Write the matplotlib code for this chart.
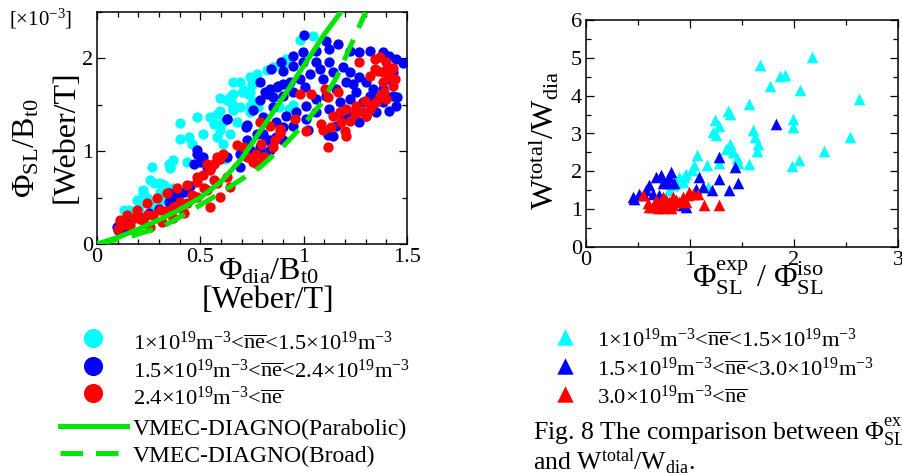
import matplotlib
matplotlib.use('Agg')
import matplotlib.pyplot as plt
from matplotlib.ticker import MultipleLocator

plt.rcParams['font.family'] = 'Liberation Serif'
plt.rcParams['mathtext.fontset'] = 'custom'
plt.rcParams['mathtext.rm'] = 'Liberation Serif'
plt.rcParams['mathtext.it'] = 'Liberation Serif:italic'

CYAN = '#00ffff'
BLUE = '#0000ff'
RED = '#ff0000'
GREEN = '#00e600'

# ---- left panel: Phi_SL/B_t0 vs Phi_dia/B_t0 (units 1e-3 on y) ----
low_x = [0.66, 0.693, 0.749, 0.70, 0.733, 0.596, 0.644, 0.652, 0.66, 0.741, 0.596, 0.58,
         0.547, 0.483, 0.403, 0.612, 0.676, 1.045, 0.916, 0.90, 0.771, 0.755, 0.739, 0.755,
         0.779, 0.739, 0.443, 0.58, 0.644, 0.612, 0.266, 0.346, 0.354, 0.435, 0.274, 0.225,
         0.242, 0.306, 0.37, 0.314, 0.153, 0.201, 0.266, 0.322, 0.403, 0.459, 0.515, 0.596,
         0.564, 0.66, 0.692, 0.628, 0.66, 0.709, 0.741, 0.773, 0.821, 0.853, 0.902, 0.95,
         0.354, 0.37, 0.258, 0.306, 0.225, 0.193, 0.129, 0.177, 0.88, 0.93, 0.98, 0.62]
low_y = [1.75, 1.742, 1.724, 1.64, 1.616, 1.57, 1.58, 1.509, 1.455, 1.49, 1.437, 1.40,
         1.366, 1.373, 1.30, 1.31, 1.31, 2.244, 1.993, 1.94, 1.814, 1.724, 1.635, 1.545,
         1.474, 1.42, 1.154, 1.154, 1.19, 1.082, 0.832, 0.867, 0.814, 0.885, 0.652, 0.545,
         0.491, 0.563, 0.599, 0.473, 0.366, 0.384, 0.42, 0.635, 1.136, 1.082, 1.19, 1.226,
         1.297, 1.441, 1.477, 1.548, 1.62, 1.656, 1.799, 1.835, 1.871, 1.907, 1.96, 1.495,
         0.832, 0.903, 0.688, 0.652, 0.581, 0.473, 0.366, 0.294, 1.48, 1.45, 2.2, 0.92]

mid_x = [1.001, 1.109, 1.166, 1.125, 1.061, 0.997, 0.948, 0.892, 0.844, 0.90, 0.948, 0.997,
         1.061, 1.125, 1.077, 1.029, 0.981, 0.932, 0.876, 0.836, 0.787, 0.811, 0.852, 0.90,
         0.948, 1.005, 1.093, 1.142, 1.19, 1.222, 1.206, 1.158, 1.109, 1.061, 1.013, 0.964,
         0.916, 0.868, 0.90, 0.948, 1.013, 1.061, 1.125, 1.174, 1.222, 1.254, 1.238, 1.27,
         1.303, 1.335, 1.319, 1.287, 1.254, 1.222, 1.19, 1.222, 1.27, 1.319, 1.383, 1.415,
         1.448, 1.48, 1.431, 1.415, 1.383, 1.351, 1.383, 1.431, 1.448, 1.415, 1.351, 1.303,
         1.27, 1.158, 0.803, 0.836, 0.787, 0.763, 0.868, 1.117, 1.142, 1.021, 0.82, 0.90,
         0.483, 0.515, 0.499, 0.467, 0.709, 0.692, 0.346, 0.37, 0.419, 0.113, 0.097, 0.483,
         0.628, 0.721, 0.628, 0.725, 0.757, 0.789, 0.821, 0.87, 0.902, 0.853, 0.805, 0.773,
         0.821, 0.725, 0.692, 0.741, 0.789, 0.837, 0.531, 0.58, 0.628, 0.10, 0.11, 0.13,
         0.15, 0.20, 0.25, 0.30, 0.35, 0.40, 0.45, 0.55, 1.38, 1.45]
mid_y = [2.251, 2.19, 2.155, 2.101, 2.083, 2.065, 2.029, 1.957, 1.886, 1.868, 1.922, 1.957,
         1.957, 1.957, 1.886, 1.832, 1.778, 1.742, 1.706, 1.671, 1.742, 1.635, 1.581, 1.599,
         1.635, 1.689, 1.778, 1.85, 1.904, 1.85, 1.742, 1.671, 1.599, 1.563, 1.491, 1.42,
         1.384, 1.312, 1.258, 1.276, 1.348, 1.42, 1.456, 1.527, 1.563, 1.635, 1.724, 1.796,
         1.742, 1.671, 1.599, 1.527, 1.456, 1.384, 1.348, 2.083, 2.065, 2.083, 2.065, 2.029,
         1.993, 1.95, 1.85, 1.778, 1.671, 1.581, 1.527, 1.599, 1.491, 1.438, 1.42, 1.384,
         1.312, 1.276, 1.19, 1.118, 1.011, 0.975, 1.154, 1.172, 1.161, 1.226, 0.94, 1.118,
         0.975, 0.939, 0.885, 0.867, 0.975, 0.832, 0.545, 0.509, 0.563, 0.222, 0.186, 1.011,
         1.351, 1.265, 1.351, 1.28, 1.441, 1.548, 1.62, 1.692, 1.728, 1.477, 1.369, 1.19,
         1.118, 1.118, 0.975, 1.011, 1.047, 1.011, 0.832, 0.903, 0.939, 0.15, 0.20, 0.17,
         0.25, 0.30, 0.33, 0.38, 0.45, 0.55, 0.62, 0.83, 1.56, 1.58]

high_x = [1.27, 1.343, 1.367, 1.399, 1.343, 1.319, 1.383, 1.415, 1.431, 1.383, 1.391, 1.399,
          1.351, 1.295, 1.254, 1.206, 1.174, 1.142, 1.182, 1.222, 1.287, 1.319, 0.981, 1.037,
          1.101, 1.166, 1.117, 0.787, 0.836, 0.884, 0.956, 1.085, 1.133, 1.013, 1.198, 0.884,
          0.86, 0.795, 0.771, 0.811, 0.755, 1.117, 1.206, 1.093, 0.676, 0.612, 0.596, 0.564,
          0.548, 0.515, 0.483, 0.435, 0.386, 0.338, 0.29, 0.242, 0.193, 0.145, 0.113, 0.129,
          0.177, 0.242, 0.306, 0.37, 0.435, 0.483, 0.531, 0.58, 0.628, 0.644, 0.419, 0.37,
          0.314, 0.258, 0.225, 0.548, 0.596, 0.564, 0.483, 0.709, 0.725, 0.773, 0.805, 0.853,
          0.886, 0.58, 0.531, 0.10, 0.12, 0.16, 0.21, 0.27, 0.33, 0.40, 0.46, 0.52, 1.43, 1.36,
          1.40, 1.44, 1.37, 1.33, 1.25, 1.30]
high_y = [1.957, 1.993, 2.011, 1.957, 1.886, 1.814, 1.85, 1.814, 1.706, 1.742, 1.635, 1.563,
          1.527, 1.545, 1.491, 1.456, 1.42, 1.384, 1.312, 1.33, 1.42, 1.456, 1.617, 1.617,
          1.671, 1.635, 1.581, 1.312, 1.276, 1.24, 1.348, 1.294, 1.258, 1.222, 1.222, 1.208,
          1.118, 1.082, 0.975, 0.94, 0.885, 1.04, 1.161, 1.226, 1.065, 0.975, 0.921, 0.867,
          0.796, 0.742, 0.67, 0.635, 0.599, 0.545, 0.491, 0.437, 0.366, 0.312, 0.258, 0.204,
          0.276, 0.312, 0.366, 0.402, 0.437, 0.509, 0.581, 0.652, 0.724, 0.617, 0.33, 0.276,
          0.24, 0.186, 0.258, 0.402, 0.509, 0.688, 0.724, 1.047, 0.939, 0.867, 0.939, 1.047,
          1.19, 0.939, 0.867, 0.16, 0.22, 0.20, 0.27, 0.31, 0.36, 0.45, 0.53, 0.60, 1.90, 1.86,
          1.88, 1.78, 1.60, 1.50, 1.40, 1.38]

para_x = [0, 0.1, 0.2, 0.3, 0.4, 0.5, 0.6, 0.7, 0.8, 0.9, 1.0, 1.1, 1.18]
para_y = [0, 0.07, 0.16, 0.26, 0.37, 0.5, 0.67, 0.92, 1.25, 1.58, 1.92, 2.26, 2.5]
broad_x = [0, 0.16, 0.32, 0.44, 0.56, 0.68, 0.79, 0.9, 0.98, 1.08, 1.16, 1.22, 1.3]
broad_y = [0, 0.08, 0.19, 0.34, 0.5, 0.67, 0.83, 1.05, 1.24, 1.5, 1.8, 2.1, 2.5]

# ---- right panel: W_total/W_dia vs Phi_exp/Phi_iso ----
r_low_x = [2.173, 1.673, 1.869, 1.917, 1.772, 2.058, 2.622, 1.564, 1.365, 1.385, 1.244, 1.282,
           1.218, 1.25, 1.987, 1.987, 1.603, 1.628, 1.657, 1.647, 2.535, 2.285, 2.045, 1.978,
           1.385, 1.346, 1.41, 1.449, 1.462, 1.571, 1.067, 1.163, 1.276, 1.035, 1.016, 0.962,
           0.946, 0.897, 0.865, 0.833, 0.929, 1.17, 0.801]
r_low_y = [5.01, 4.81, 4.52, 4.54, 4.26, 4.16, 3.92, 3.79, 3.59, 3.52, 3.36, 3.21,
           3.04, 2.95, 3.39, 3.17, 3.08, 2.9, 2.73, 2.55, 2.9, 2.55, 2.29, 2.13,
           2.71, 2.6, 2.51, 2.36, 2.22, 2.2, 2.42, 2.18, 2.22, 2.16, 2.03, 1.94,
           1.85, 1.85, 1.68, 1.63, 1.72, 1.59, 1.5]
r_mid_x = [1.827, 1.282, 1.436, 1.458, 1.276, 1.372, 1.212, 1.083, 1.122, 1.058, 0.817, 0.721,
           0.673, 0.849, 0.785, 0.737, 0.609, 0.577, 0.513, 0.465, 0.705, 0.641, 0.962, 0.929,
           0.673, 0.449, 0.561, 0.80]
r_mid_y = [3.25, 2.38, 2.11, 1.69, 1.81, 1.5, 1.5, 1.85, 1.59, 1.54, 1.98, 1.89,
           1.85, 1.68, 1.68, 1.68, 1.63, 1.5, 1.41, 1.28, 1.37, 1.41, 1.06, 1.1,
           1.15, 1.32, 1.37, 1.85]
r_high_x = [0.545, 0.593, 0.641, 0.689, 0.737, 0.785, 0.833, 0.817, 0.865, 0.929, 0.978, 1.026,
            1.074, 1.138, 1.282, 0.769, 0.721, 0.801, 0.897, 0.673, 0.737, 0.833, 0.962, 0.609,
            0.994]
r_high_y = [1.37, 1.15, 1.06, 1.02, 1.02, 1.06, 1.1, 1.02, 1.24, 1.32, 1.37, 1.41,
            1.41, 1.12, 1.12, 1.24, 1.19, 1.19, 1.19, 1.24, 1.32, 1.32, 1.19, 1.06,
            1.46]

E19 = r'10$^{19}$m$^{\mathrm{-3}}$'
NE = r'$\overline{\mathrm{ne}}$'
labels_left = ['1×' + E19 + '<' + NE + '<1.5×' + E19,
               '1.5×' + E19 + '<' + NE + '<2.4×' + E19,
               '2.4×' + E19 + '<' + NE,
               'VMEC-DIAGNO(Parabolic)', 'VMEC-DIAGNO(Broad)']
labels_right = ['1×' + E19 + '<' + NE + '<1.5×' + E19,
                '1.5×' + E19 + '<' + NE + '<3.0×' + E19,
                '3.0×' + E19 + '<' + NE]

W, H = 903, 473
fig = plt.figure(figsize=(W / 100, H / 100), dpi=100)


def px_axes(x0, y0, x1, y1):
    return fig.add_axes([x0 / W, 1 - y1 / H, (x1 - x0) / W, (y1 - y0) / H])


def style(ax):
    for s in ax.spines.values():
        s.set_linewidth(1.1)
    ax.tick_params(which='both', direction='in', top=True, right=True, width=0.9,
                   labelsize=16, pad=3)
    ax.tick_params(which='major', length=6)
    ax.tick_params(which='minor', length=3.5)


fmt = plt.FuncFormatter(lambda v, p: '%g' % v)

ax1 = px_axes(97, 12, 407, 244)
ax1.scatter(low_x, low_y, s=55, c=CYAN, linewidths=0, zorder=2)
ax1.scatter(mid_x, mid_y, s=55, c=BLUE, linewidths=0, zorder=3)
ax1.scatter(high_x, high_y, s=55, c=RED, linewidths=0, zorder=4)
ax1.plot(para_x, para_y, color=GREEN, lw=3.6, zorder=5, solid_capstyle='round')
ax1.plot(broad_x, broad_y, color=GREEN, lw=3.6, zorder=5, dashes=[4.5, 2.6])
ax1.set_xlim(0, 1.5)
ax1.set_ylim(0, 2.5)
ax1.xaxis.set_major_locator(MultipleLocator(0.5))
ax1.xaxis.set_minor_locator(MultipleLocator(0.1))
ax1.yaxis.set_major_locator(MultipleLocator(1))
ax1.yaxis.set_minor_locator(MultipleLocator(0.5))
ax1.xaxis.set_major_formatter(fmt)
ax1.yaxis.set_major_formatter(fmt)
style(ax1)

ax2 = px_axes(586, 20, 898, 247)
ax2.scatter(r_low_x, r_low_y, s=70, marker='^', c=CYAN, linewidths=0, zorder=2)
ax2.scatter(r_mid_x, r_mid_y, s=70, marker='^', c=BLUE, linewidths=0, zorder=3)
ax2.scatter(r_high_x, r_high_y, s=70, marker='^', c=RED, linewidths=0, zorder=4)
ax2.set_xlim(0, 3)
ax2.set_ylim(0, 6)
ax2.xaxis.set_major_locator(MultipleLocator(1))
ax2.xaxis.set_minor_locator(MultipleLocator(0.5))
ax2.yaxis.set_major_locator(MultipleLocator(1))
ax2.yaxis.set_minor_locator(MultipleLocator(0.5))
style(ax2)

# overlay in pixel coordinates for labels, legends and caption
ov = fig.add_axes([0, 0, 1, 1])
ov.set_xlim(0, W)
ov.set_ylim(H, 0)
ov.axis('off')

big = 23
ov.text(41, 19, r'[×10$^{\mathrm{-3}}$]', fontsize=15, ha='center', va='center')
ov.text(27, 148, r'$\mathrm{\Phi_{SL}/B_{t0}}$', fontsize=big, rotation=90,
        ha='center', va='center')
ov.text(66, 137, '[Weber/T]', fontsize=big, rotation=90, ha='center', va='center')
ov.text(268, 272, r'$\mathrm{\Phi_{dia}/B_{t0}}$', fontsize=big, ha='center', va='center')
ov.text(268, 300, '[Weber/T]', fontsize=big, ha='center', va='center')
ov.text(544, 140, r'$\mathrm{W^{total}/W_{dia}}$', fontsize=big, rotation=90,
        ha='center', va='center')
ov.text(758, 278, r'$\mathrm{\Phi^{exp}_{SL}\ /\ \Phi^{iso}_{SL}}$', fontsize=big,
        ha='center', va='center')

# left legend
leg_y = [350, 378, 405, 435, 462]
for yy, col in zip(leg_y[:3], [CYAN, BLUE, RED]):
    ov.scatter([93], [yy - 12], s=190, c=col, linewidths=0)
ov.plot([60, 127], [leg_y[3] - 9] * 2, color=GREEN, lw=3.6)
ov.plot([60, 127], [leg_y[4] - 9] * 2, color=GREEN, lw=3.6, dashes=[4.5, 2.6])
for yy, lab in zip(leg_y[:3], labels_left[:3]):
    ov.text(133, yy, lab, fontsize=16.2, va='baseline')
for yy, lab in zip(leg_y[3:], labels_left[3:]):
    ov.text(133, yy, lab, fontsize=17, va='baseline')

# right legend
rleg_y = [347, 376, 404]
for yy, col in zip(rleg_y, [CYAN, BLUE, RED]):
    ov.scatter([565], [yy - 10], s=140, marker='^', c=col, linewidths=0)
for yy, lab in zip(rleg_y, labels_right):
    ov.text(597, yy, lab, fontsize=16.2, va='baseline')

ov.text(533, 440, 'Fig. 8 The comparison between ' + r'$\mathrm{\Phi^{exp}_{SL}/\Phi^{iso}_{SL}}$',
        fontsize=18.5, va='baseline')
ov.text(533, 470, r'and $\mathrm{W^{total}/W_{dia}}$.', fontsize=18.5, va='baseline')

fig.savefig('out.png', dpi=100)
